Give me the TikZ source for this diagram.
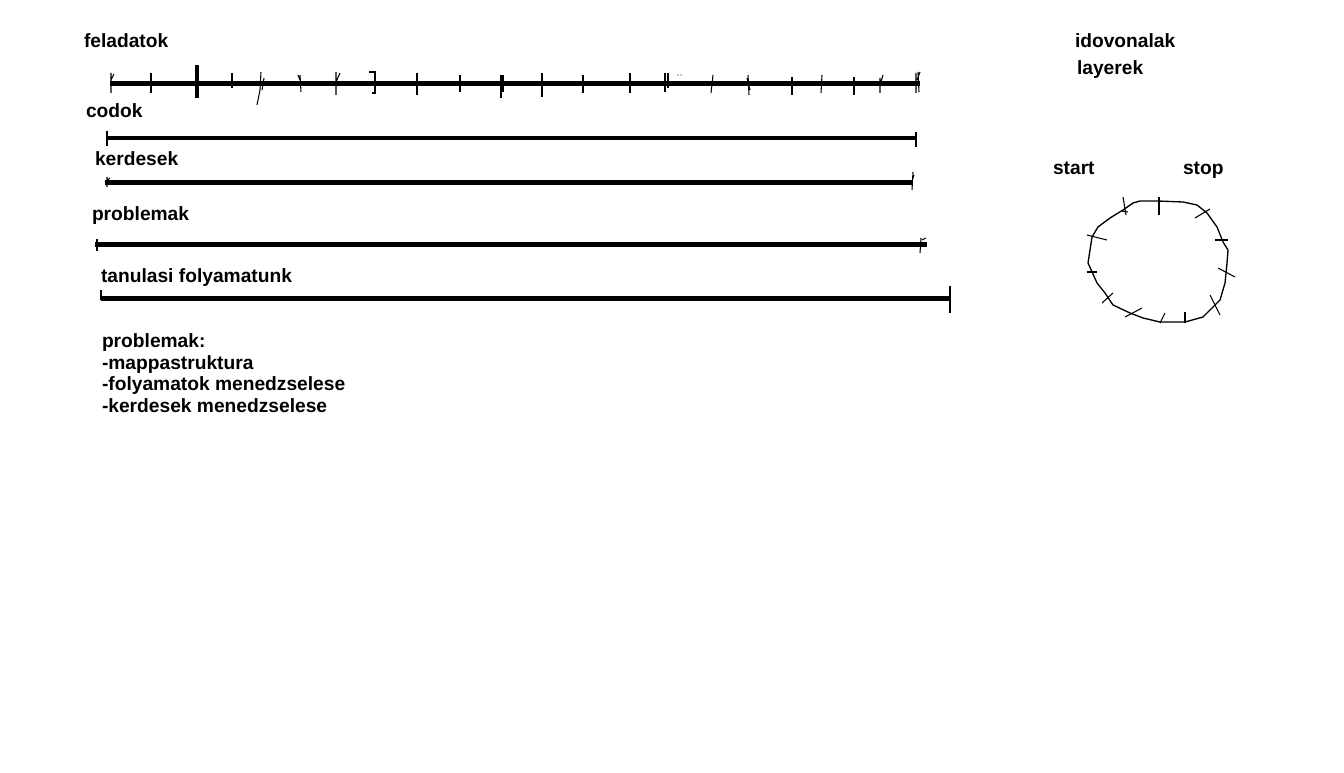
\documentclass[tikz,border=0pt]{standalone}
\usepackage{fontspec}
\setmainfont{Liberation Sans}
\tikzset{
  lbl/.style={anchor=base west, inner sep=0pt, outer sep=0pt, font=\bfseries\fontsize{14.4pt}{16.3pt}\selectfont, align=left},
  bar/.style={line width=3.6pt, black},
  tk/.style={line width=0.8pt, black},
  tkb/.style={line width=1.6pt, black},
  ring/.style={line width=1pt, black}
}
\begin{document}
\begin{tikzpicture}[x=0.75pt, y=-0.75pt]
\useasboundingbox[fill=white] (0,0) rectangle (1344,773);

% labels
\node[lbl] (feladatok) at (84,48) {feladatok};
\node[lbl] (codok) at (86,118) {codok};
\node[lbl] (kerdesek) at (95,166) {kerdesek};
\node[lbl] (problemak) at (92,221) {problemak};
\node[lbl] (tanulasi) at (101,282) {tanulasi folyamatunk};
\node[lbl, anchor=north west] (lista) at (102,333.5) {problemak:\\-mappastruktura\\-folyamatok menedzselese\\-kerdesek menedzselese};
\node[lbl] (idovonalak) at (1075,48) {idovonalak};
\node[lbl] (layerek) at (1077,75) {layerek};
\node[lbl] (start) at (1053,175) {start};
\node[lbl] (stop) at (1183,175) {stop};

% bar end points
\coordinate (fA) at (110,83.5);  \coordinate (fB) at (920,83.5);
\coordinate (cA) at (107,138);   \coordinate (cB) at (916,138);
\coordinate (kA) at (105,182.5); \coordinate (kB) at (913,182.5);
\coordinate (pA) at (95,244.5);  \coordinate (pB) at (927,244.5);
\coordinate (tA) at (101,298.5); \coordinate (tB) at (950,298.5);

\draw[bar] (fA) -- (fB);
\draw[bar] (cA) -- (cB);
\draw[bar] (kA) -- (kB);
\draw[bar] (pA) -- (pB);
\draw[bar] (tA) -- (tB);

% ticks on feladatok
\draw[tk] (111,73) -- (111,93) (111,80) -- (114,74);
\draw[tk] (151,73) -- (151,93);
\draw[tk] (196,65) -- (196,98) (198,65) -- (198,98);
\draw[tk] (232,73) -- (232,88);
\draw[tk] (261,72) -- (260,90) -- (257,105) (262,90) -- (264,78);
\draw[tk] (300,75) -- (301,92) (298,75) -- (300,80);
\draw[tk] (336,72) -- (336,95) (336,82) -- (340,73);
\draw[tk] (369,72) -- (375,72) -- (375,93) -- (372,93);
\draw[tk] (417,73) -- (417,95);
\draw[tk] (460,75) -- (460,92);
\draw[tk] (501,75) -- (501,98) (503,75) -- (503,92);
\draw[tk] (542,73) -- (542,97);
\draw[tk] (583,75) -- (583,93);
\draw[tk] (630,73) -- (630,93);
\draw[tk] (665,73) -- (665,92) (668,73) -- (668,88);
\fill (678,75) circle (0.6) (681,75) circle (0.6);
\draw[tk] (713,75) -- (711,93);
\draw[tk] (748,75) -- (749,95) (747,78) -- (750,90);
\draw[tk] (792,77) -- (792,95);
\draw[tk] (822,75) -- (821,93);
\draw[tk] (854,77) -- (854,95);
\draw[tk] (880,78) -- (880,93) (881,82) -- (883,75);
\draw[tk] (916,73) -- (916,93) (918,72) -- (919,92) (920,72) -- (917,80);

% end ticks on other bars
\draw[tk] (107,131) -- (107,146);
\draw[tk] (916,132) -- (916,147);
\draw[tk] (107,177) -- (107,187) (105,182) -- (110,178);
\draw[tk] (913,172) -- (912,190) (914,175) -- (911,184);
\draw[tk] (97,239) -- (97,251);
\draw[tk] (921,238) -- (920,253) (922,240) -- (926,238);
\draw[tk] (101,290) -- (101,300);
\draw[tkb] (950,286) -- (950,313);

% ring
\draw[ring] (1140,201) -- (1158,201) -- (1183,202) -- (1197,205) -- (1207,213)
  -- (1217,227) -- (1223,242) -- (1228,250) -- (1227,263) -- (1225,283)
  -- (1220,300) -- (1212,308) -- (1203,317) -- (1185,322) -- (1160,322)
  -- (1143,318) -- (1130,313) -- (1113,305) -- (1105,293) -- (1097,283)
  -- (1088,263) -- (1090,250) -- (1092,237) -- (1098,227) -- (1110,218)
  -- (1123,210) -- (1133,203) -- cycle;
% ring ticks
\draw[tk] (1123,197) -- (1126,215) (1121,211) -- (1128,212);
\draw[tkb] (1159,197) -- (1159,215);
\draw[tk] (1195,218) -- (1210,209);
\draw[tk] (1215,240) -- (1228,240);
\draw[tk] (1218,268) -- (1235,277);
\draw[tk] (1210,295) -- (1220,315);
\draw[tk] (1125,317) -- (1142,308);
\draw[tk] (1160,323) -- (1165,313);
\draw[tk] (1185,312) -- (1185,323);
\draw[tk] (1102,303) -- (1113,293);
\draw[tk] (1087,272) -- (1097,272);
\draw[tk] (1087,235) -- (1107,240);
\end{tikzpicture}
\end{document}
